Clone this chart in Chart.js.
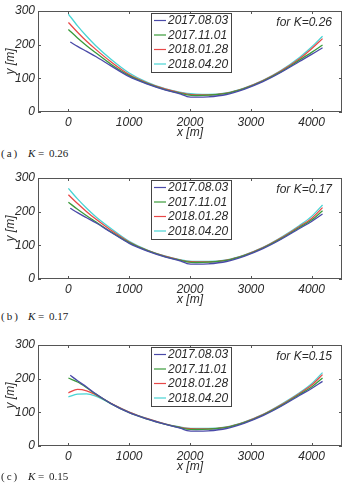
<!DOCTYPE html>
<html><head><meta charset="utf-8">
<script src="https://cdn.jsdelivr.net/npm/chart.js@4.4.0/dist/chart.umd.min.js"></script>
<style>
html,body{margin:0;padding:0;background:#fff;width:346px;height:490px;overflow:hidden;}
.wrap{position:absolute;left:0;width:346px;height:141px;}
.cap{position:absolute;left:0;width:120px;height:14px;font-family:"Liberation Serif","DejaVu Serif",serif;font-size:11px;color:#222;}
.cap span{position:absolute;top:0;white-space:pre;}
</style></head><body>
<div class="wrap" style="top:0"><canvas id="cA" width="346" height="141"></canvas></div>
<div class="wrap" style="top:167px"><canvas id="cB" width="346" height="141"></canvas></div>
<div class="wrap" style="top:334px"><canvas id="cC" width="346" height="141"></canvas></div>
<div class="cap" style="top:147px"><span style="left:1px;letter-spacing:2px">(a)</span><span style="left:28px;font-style:italic">K</span><span style="left:38px">=</span><span style="left:49px">0.26</span></div>
<div class="cap" style="top:310px"><span style="left:1px;letter-spacing:2px">(b)</span><span style="left:28px;font-style:italic">K</span><span style="left:38px">=</span><span style="left:49px">0.17</span></div>
<div class="cap" style="top:470px"><span style="left:1px;letter-spacing:2px">(c)</span><span style="left:28px;font-style:italic">K</span><span style="left:38px">=</span><span style="left:49px">0.15</span></div>
<script>
// ---- data ----
const seriesLabels = ['2017.08.03', '2017.11.01', '2018.01.28', '2018.04.20'];
const seriesStartX = [30, 0, 0, 0];
const xs = [0,150,300,450,700,1000,1300,1600,1850,1950,2100,2300,2600,2900,3200,3500,3800,4000,4180];
const xTickValues = [0, 1000, 2000, 3000, 4000];
const yTickValues = [0, 100, 200, 300];

// panel (a) K=0.26
const a_20170803 = [208,195,180,165,137,105,83,65,53,46,44,45,52,68,90,118,150,171,191];
const a_20171101 = [245,220,197,176,142,108,84,66,55,51,49,50,55,70,92,120,154,177,199];
const a_20180128 = [266,237,210,186,149,111,86,68,57,53,51,51,56,71,93,122,158,188,218];
const a_20180420 = [291,256,225,197,157,116,88,69,58,55,53,52,57,72,94,124,162,193,225];
// panel (b) K=0.17
const b_20170803 = [210,197,182,167,139,106,83,65,53,46,44,45,52,68,90,118,150,171,193];
const b_20171101 = [228,207,188,170,140,108,84,66,55,51,49,50,55,70,92,120,153,175,203];
const b_20180128 = [250,224,200,178,145,110,85,67,56,52,51,51,56,71,93,122,156,180,212];
const b_20180420 = [269,238,210,185,150,112,86,68,57,54,52,52,57,72,94,124,159,186,220];
// panel (c) K=0.15
const c_20170803 = [210,194,175,155,126,99,80,64,52,46,44,45,52,68,90,118,150,171,192];
const c_20171101 = [202,190,173,154,126,99,80,64,54,50,49,50,55,70,92,120,153,175,202];
const c_20180128 = [158,168,164,152,127,101,81,65,55,52,51,51,56,71,93,122,156,181,212];
const c_20180420 = [146,154,155,148,126,101,81,65,56,53,52,52,57,72,94,124,158,185,218];

const kLabels = ['for K=0.26', 'for K=0.17', 'for K=0.15'];

// ---- styling ----
const colors = ['#4a4aa8', '#3a9a3a', '#e84848', '#48d4d4'];
const FONT = '"Liberation Sans", Arial, sans-serif';
const TXT = '#2a2a2a';

const framePlugin = {
  id: 'frame',
  afterDatasetsDraw(chart, args, opts) {
    const {ctx, chartArea: a, scales: {x, y}} = chart;
    ctx.save();
    ctx.strokeStyle = '#555';
    ctx.lineWidth = 1;
    ctx.strokeRect(a.left + 0.5, a.top + 0.5, a.right - a.left - 1, a.bottom - a.top - 1);
    ctx.beginPath();
    x.ticks.forEach(t => {
      const p = Math.round(x.getPixelForValue(t.value)) + 0.5;
      ctx.moveTo(p, a.bottom); ctx.lineTo(p, a.bottom - 3);
      ctx.moveTo(p, a.top); ctx.lineTo(p, a.top + 3);
    });
    y.ticks.forEach(t => {
      const p = Math.round(y.getPixelForValue(t.value)) + 0.5;
      ctx.moveTo(a.left, p); ctx.lineTo(a.left + 3, p);
      ctx.moveTo(a.right, p); ctx.lineTo(a.right - 3, p);
    });
    ctx.stroke();
    // legend box
    const bx = a.left + 113, by = a.top + 2, bw = 80, bh = 59;
    ctx.fillStyle = '#fff';
    ctx.fillRect(bx, by, bw, bh);
    ctx.strokeStyle = '#444';
    ctx.strokeRect(bx + 0.5, by + 0.5, bw, bh);
    ctx.font = 'italic 12px ' + FONT;
    ctx.textBaseline = 'middle';
    ctx.textAlign = 'left';
    chart.data.datasets.forEach((ds, i) => {
      const ry = by + 7.5 + i * 14.5;
      ctx.strokeStyle = ds.borderColor;
      ctx.lineWidth = 1.2;
      ctx.beginPath();
      ctx.moveTo(bx + 3, ry); ctx.lineTo(bx + 15, ry);
      ctx.stroke();
      ctx.fillStyle = TXT;
      ctx.fillText(ds.label, bx + 17, ry + 0.5);
    });
    // annotation
    ctx.textAlign = 'right';
    ctx.fillStyle = TXT;
    ctx.fillText(opts.text, a.right - 10, a.top + 12);
    ctx.restore();
  }
};

function makeChart(id, seriesArr, kText) {
  const datasets = seriesArr.map((vals, i) => ({
    label: seriesLabels[i],
    data: vals.map((v, j) => ({x: j === 0 ? seriesStartX[i] : xs[j], y: v})),
    borderColor: colors[i],
    backgroundColor: colors[i],
    borderWidth: 1.3,
    pointRadius: 0,
    cubicInterpolationMode: 'monotone',
    fill: false
  }));
  new Chart(document.getElementById(id), {
    type: 'line',
    data: {datasets},
    plugins: [framePlugin],
    options: {
      responsive: false,
      animation: false,
      devicePixelRatio: 1,
      layout: {padding: {top: 11, right: 4, left: 0, bottom: 0}},
      plugins: {legend: {display: false}, tooltip: {enabled: false}, frame: {text: kText}},
      scales: {
        x: {
          type: 'linear', min: -500, max: 4500,
          afterBuildTicks: s => { s.ticks = xTickValues.map(v => ({value: v})); },
          afterFit: s => { s.height = 29; },
          grid: {display: false, drawTicks: false},
          border: {display: false},
          ticks: {font: {family: FONT, size: 12, style: 'italic'}, color: TXT, padding: 3, maxRotation: 0,
                  callback: v => String(v)},
          title: {display: true, text: 'x [m]', font: {family: FONT, size: 12, style: 'italic'}, color: TXT, padding: {top: 0, bottom: 1}}
        },
        y: {
          type: 'linear', min: 0, max: 300,
          afterBuildTicks: s => { s.ticks = yTickValues.map(v => ({value: v})); },
          afterFit: s => { s.width = 38; },
          grid: {display: false, drawTicks: false},
          border: {display: false},
          ticks: {font: {family: FONT, size: 12, style: 'italic'}, color: TXT, padding: 3,
                  callback: v => String(v)},
          title: {display: true, text: 'y [m]', font: {family: FONT, size: 12, style: 'italic'}, color: TXT, padding: {top: 3, bottom: 0}}
        }
      }
    }
  });
}

makeChart('cA', [a_20170803, a_20171101, a_20180128, a_20180420], kLabels[0]);
makeChart('cB', [b_20170803, b_20171101, b_20180128, b_20180420], kLabels[1]);
makeChart('cC', [c_20170803, c_20171101, c_20180128, c_20180420], kLabels[2]);
</script>
</body></html>
